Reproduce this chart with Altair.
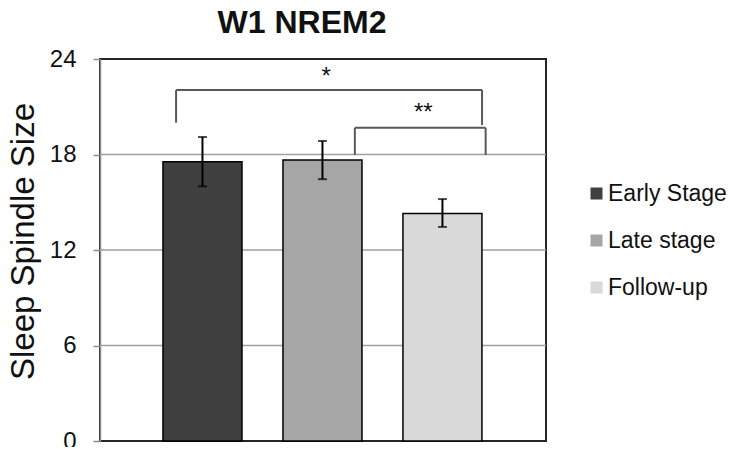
import altair as alt
import pandas as pd

# ---- data ----
categories = ["Early Stage", "Late stage", "Follow-up"]
positions = [0, 1, 2]
means = [17.55, 17.65, 14.3]
err_lo = [16.0, 16.45, 13.45]
err_hi = [19.1, 18.85, 15.2]
colors = ["#404040", "#a6a6a6", "#d9d9d9"]

y_ticks = [0, 6, 12, 18, 24]

# significance brackets
bracket_labels = ["*", "**"]
bracket_x1 = [-0.22, 1.27]
bracket_x2 = [2.33, 2.36]
bracket_top = [22.05, 19.68]
bracket_left_end = [20.0, 17.97]
bracket_right_end = [19.85, 17.97]
star_x = [1.03, 1.84]
star_y = [22.45, 20.19]

FONT = "Liberation Sans"
XDOM = [-0.854, 2.863]

bars_df = pd.DataFrame({
    "cat": categories, "pos": positions, "mean": means,
    "lo": err_lo, "hi": err_hi,
})

seg_rows = []
for i in range(len(bracket_labels)):
    seg_rows.append({"x": bracket_x1[i], "x2": bracket_x1[i], "y": bracket_left_end[i], "y2": bracket_top[i]})
    seg_rows.append({"x": bracket_x1[i], "x2": bracket_x2[i], "y": bracket_top[i], "y2": bracket_top[i]})
    seg_rows.append({"x": bracket_x2[i], "x2": bracket_x2[i], "y": bracket_right_end[i], "y2": bracket_top[i]})
seg_df = pd.DataFrame(seg_rows)
star_df = pd.DataFrame({"label": bracket_labels, "x": star_x, "y": star_y})

xscale = alt.Scale(domain=XDOM, nice=False, zero=False, padding=0)
yscale = alt.Scale(domain=[0, 24], nice=False, padding=0)

base = alt.Chart(bars_df)

bars = base.mark_bar(size=79, stroke="black", strokeWidth=1.5).encode(
    x=alt.X("pos:Q", scale=xscale, axis=None),
    y=alt.Y("mean:Q", scale=yscale, axis=alt.Axis(
        values=y_ticks, title="Sleep Spindle Size",
        titleFontSize=33, titleFont=FONT, titleFontWeight="normal", titleColor="#111111",
        titleAngle=270, titleX=-77, titleY=182, titleAlign="center", titleBaseline="middle",
        labelFontSize=24, labelFont=FONT, labelColor="#111111", labelPadding=17,
        tickSize=7, tickColor="#8c8c8c", tickWidth=1.5,
        domainColor="#8c8c8c", domainWidth=1.5,
        grid=False,
    )),
    color=alt.Color("cat:N", scale=alt.Scale(domain=categories, range=colors),
                    legend=alt.Legend(
                        title=None, orient="none", legendX=485, legendY=123,
                        symbolType="square", symbolSize=144, symbolStrokeWidth=0,
                        labelFontSize=23, labelFont=FONT, labelColor="#111111",
                        labelOffset=0, rowPadding=23, padding=0, labelLimit=300,
                    )),
)

grid = alt.Chart(pd.DataFrame({"g": y_ticks[1:-1]})).mark_rule(
    color="#a0a0a0", strokeWidth=1.5
).encode(y=alt.Y("g:Q", scale=yscale))

err = base.mark_rule(color="black", strokeWidth=2).encode(
    x=alt.X("pos:Q", scale=xscale), y=alt.Y("lo:Q", scale=yscale), y2="hi:Q"
)
cap_lo = base.mark_tick(color="black", size=9, thickness=2, orient="horizontal").encode(
    x=alt.X("pos:Q", scale=xscale), y=alt.Y("lo:Q", scale=yscale)
)
cap_hi = base.mark_tick(color="black", size=9, thickness=2, orient="horizontal").encode(
    x=alt.X("pos:Q", scale=xscale), y=alt.Y("hi:Q", scale=yscale)
)

brackets = alt.Chart(seg_df).mark_rule(color="#595959", strokeWidth=2).encode(
    x=alt.X("x:Q", scale=xscale), x2="x2:Q",
    y=alt.Y("y:Q", scale=yscale), y2="y2:Q",
)
stars = alt.Chart(star_df).mark_text(
    fontSize=24, font=FONT, color="#111111", baseline="alphabetic", align="center"
).encode(
    x=alt.X("x:Q", scale=xscale), y=alt.Y("y:Q", scale=yscale), text="label:N"
)

chart = alt.layer(grid, bars, err, cap_lo, cap_hi, brackets, stars).properties(
    width=446, height=382,
    title=alt.TitleParams("W1 NREM2", fontSize=32, fontWeight="bold", font=FONT,
                          color="#111111", anchor="middle", dx=-21, offset=7),
    autosize=alt.AutoSizeParams(type="none"),
    padding={"left": 92, "top": 51, "right": 181, "bottom": 6},
).configure_view(
    stroke="#262626", strokeWidth=2
).configure_axis(grid=False)

chart.save("out.html", embed_options={"renderer": "svg", "actions": False})
